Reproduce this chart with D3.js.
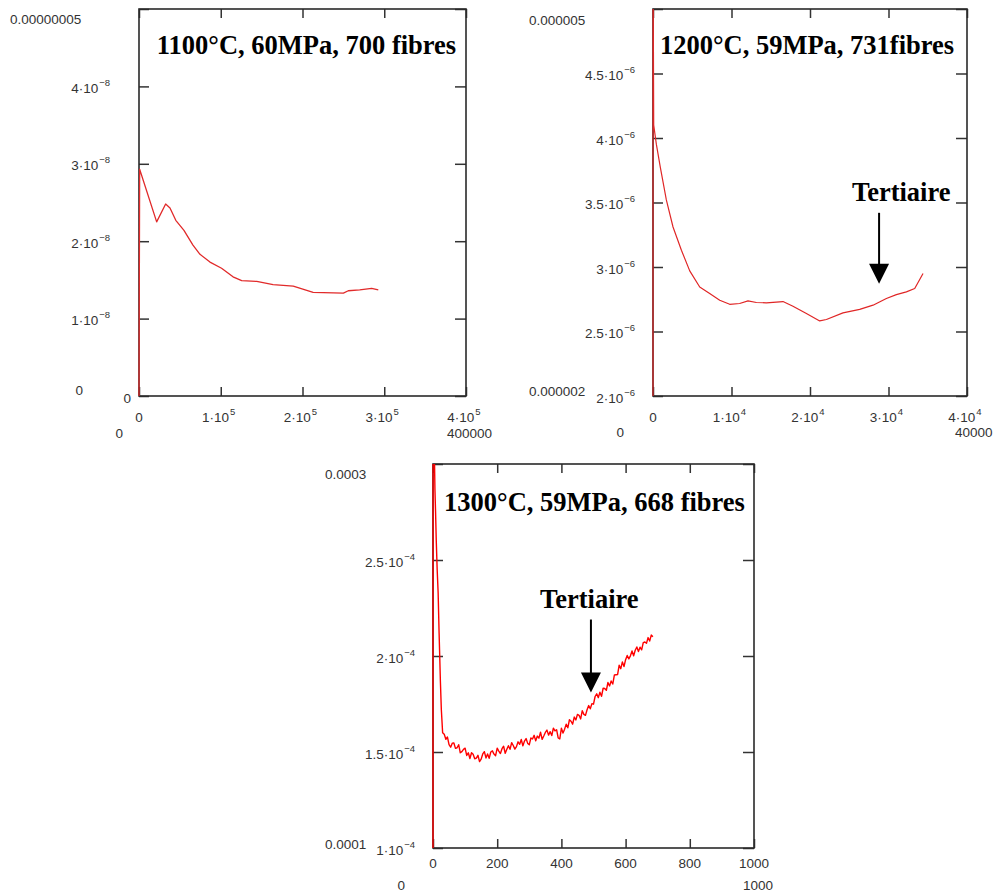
<!DOCTYPE html>
<html><head><meta charset="utf-8">
<script src="https://cdn.jsdelivr.net/npm/d3@7"></script>
<style>body{margin:0;background:#fff}svg{display:block}</style>
</head><body><svg id="c" width="994" height="895"></svg>
<script>
// ---------- DATA ----------
// Panel 1 : 1100°C
const p1Title = "1100°C, 60MPa, 700 fibres";
const p1Time = [0, 800, 21600, 32600, 37900, 45000, 55000, 66000, 74600, 86800, 101000, 115000, 125600, 144000, 164000, 188700, 213000, 250000, 256000, 270000, 284600, 292700];
const p1Rate = [0, 2.93, 2.25, 2.48, 2.43, 2.27, 2.14, 1.95, 1.83, 1.73, 1.65, 1.54, 1.49, 1.48, 1.44, 1.42, 1.34, 1.33, 1.36, 1.37, 1.39, 1.37]; // x 1e-8
const p1XTicks = [0, 1e5, 2e5, 3e5, 4e5];
const p1XLabels = ["0", "1·10^5", "2·10^5", "3·10^5", "4·10^5"];
const p1YTicks = [0, 1e-8, 2e-8, 3e-8, 4e-8, 5e-8];
const p1YLabels = ["0", "1·10^-8", "2·10^-8", "3·10^-8", "4·10^-8", ""];
const p1Limits = ["0.00000005", "0", "0", "400000"]; // ymax, ymin, xmin, xmax

// Panel 2 : 1200°C
const p2Title = "1200°C, 59MPa, 731fibres";
const p2Time = [0, 0, 90, 430, 940, 1700, 2550, 3620, 4680, 5950, 7220, 8500, 9770, 11040, 12100, 13170, 14440, 16560, 17830, 19540, 21240, 22090, 24200, 26330, 28030, 29730, 31000, 32280, 33340, 34400];
const p2Rate = [0, 5.6, 4.10, 3.95, 3.77, 3.52, 3.31, 3.13, 2.97, 2.845, 2.794, 2.742, 2.711, 2.717, 2.737, 2.725, 2.722, 2.732, 2.696, 2.640, 2.582, 2.593, 2.644, 2.671, 2.704, 2.756, 2.786, 2.807, 2.833, 2.949]; // x 1e-6
const p2XTicks = [0, 1e4, 2e4, 3e4, 4e4];
const p2XLabels = ["0", "1·10^4", "2·10^4", "3·10^4", "4·10^4"];
const p2YTicks = [2e-6, 2.5e-6, 3e-6, 3.5e-6, 4e-6, 4.5e-6, 5e-6];
const p2YLabels = ["2·10^-6", "2.5·10^-6", "3·10^-6", "3.5·10^-6", "4·10^-6", "4.5·10^-6", ""];
const p2Limits = ["0.000005", "0.000002", "0", "40000"];
const p2Arrow = [28800, 3.42e-6, 2.87e-6]; // x, top, tip
const p2Note = ["Tertiaire", 31620, 3.51e-6];

// Panel 3 : 1300°C
const p3Title = "1300°C, 59MPa, 668 fibres";
const p3Time = [0, 0, 3, 6, 8, 10, 13, 16, 19, 23, 26, 30,
  35,40,45,50,55,60,65,70,75,80,85,90,95,100,105,110,115,120,125,130,135,140,145,150,155,160,165,170,175,180,185,190,195,200,
  205,210,215,220,225,230,235,240,245,250,255,260,265,270,275,280,285,290,295,300,305,310,315,320,325,330,335,340,345,350,
  355,360,365,370,375,380,385,390,395,400,405,410,415,420,425,430,435,440,445,450,455,460,465,470,475,480,485,490,495,500,
  505,510,515,520,525,530,535,540,545,550,555,560,565,570,575,580,585,590,595,600,605,610,615,620,625,630,635,640,645,650,
  655,660,665,670,675,680,685];
const p3Rate = [0, 4.0, 3.2, 2.87, 2.75, 2.61, 2.45, 2.33, 2.12, 1.87, 1.72, 1.60,
  1.592,1.566,1.578,1.538,1.525,1.546,1.547,1.519,1.522,1.538,1.496,1.502,1.514,1.520,1.482,1.496,1.466,1.496,1.488,1.465,1.468,1.483,1.450,1.463,1.490,1.502,1.469,1.490,1.467,1.500,1.506,1.489,1.481,1.520,
  1.505,1.492,1.517,1.530,1.493,1.514,1.533,1.514,1.549,1.534,1.515,1.528,1.553,1.540,1.565,1.532,1.557,1.570,1.545,1.538,1.573,1.568,1.587,1.558,1.583,1.572,1.603,1.566,1.583,1.602,
  1.614,1.588,1.606,1.586,1.624,1.610,1.616,1.573,1.568,1.624,1.599,1.619,1.645,1.626,1.668,1.660,1.645,1.682,1.667,1.696,1.691,1.672,1.715,1.696,1.691,1.720,1.742,1.725,1.752,1.749,
  1.789,1.803,1.783,1.811,1.790,1.832,1.831,1.821,1.862,1.844,1.870,1.854,1.901,1.902,1.903,1.952,1.934,1.969,1.945,1.981,2.003,1.985,2.001,2.026,2.001,2.030,2.047,2.023,2.046,2.032,
  2.070,2.073,2.066,2.096,2.078,2.109,2.100]; // x 1e-4
const p3XTicks = [0, 200, 400, 600, 800, 1000];
const p3XLabels = ["0", "200", "400", "600", "800", "1000"];
const p3YTicks = [1e-4, 1.5e-4, 2e-4, 2.5e-4, 3e-4];
const p3YLabels = ["1·10^-4", "1.5·10^-4", "2·10^-4", "2.5·10^-4", ""];
const p3Limits = ["0.0003", "0.0001", "0", "1000"];
const p3Arrow = [492, 2.19e-4, 1.81e-4];
const p3Note = ["Tertiaire", 487, 2.25e-4];

// ---------- LAYOUT / STYLE ----------
const panels = [
  { xs: p1Time, ys: p1Rate.map(v => v * 1e-8), xDomain: [0, 4e5], yDomain: [0, 5e-8],
    xTicks: p1XTicks, xLabels: p1XLabels, yTicks: p1YTicks, yLabels: p1YLabels, title: p1Title,
    box: { l: 139, r: 466, t: 9, b: 396 }, yGap: 29, yZeroGap: 8, xLabDy: 25.5,
    color: "#e12a2a", width: 1.3, titleDx: 4, titleY: 54,
    limits: [[p1Limits[0], 10, 24, "start"], [p1Limits[1], 83, 395, "end"], [p1Limits[2], 123, 438, "end"], [p1Limits[3], 447, 438, "start"]] },
  { xs: p2Time, ys: p2Rate.map(v => v * 1e-6), xDomain: [0, 4e4], yDomain: [2e-6, 5e-6],
    xTicks: p2XTicks, xLabels: p2XLabels, yTicks: p2YTicks, yLabels: p2YLabels, title: p2Title,
    box: { l: 653, r: 967, t: 9, b: 396 }, yGap: 18, yZeroGap: 8, xLabDy: 25.5,
    color: "#e02626", width: 1.2, titleDx: -3, titleY: 54,
    limits: [[p2Limits[0], 529, 25, "start"], [p2Limits[1], 529, 396, "start"], [p2Limits[2], 624, 437, "end"], [p2Limits[3], 955, 437, "start"]],
    arrow: p2Arrow, note: p2Note },
  { xs: p3Time, ys: p3Rate.map(v => v * 1e-4), xDomain: [0, 1000], yDomain: [1e-4, 3e-4],
    xTicks: p3XTicks, xLabels: p3XLabels, yTicks: p3YTicks, yLabels: p3YLabels, title: p3Title,
    box: { l: 433, r: 754, t: 464, b: 848 }, yGap: 18, yZeroGap: 8, xLabDy: 19.5,
    color: "#ff0000", width: 1.4, titleDx: 1, titleY: 511,
    limits: [[p3Limits[0], 325, 479, "start"], [p3Limits[1], 325, 849, "start"], [p3Limits[2], 405, 890, "end"], [p3Limits[3], 743, 890, "start"]],
    arrow: p3Arrow, note: p3Note }
];

const svg = d3.select("#c");
const labelFont = "'Liberation Sans', Arial, sans-serif";
const serifFont = "'Liberation Serif', 'Times New Roman', serif";
const textColor = "#333";

function addLabel(g, str, x, y, anchor, dx) {
  const parts = str.split("^");
  const t = g.append("text").attr("x", x).attr("y", y).attr("text-anchor", anchor)
    .attr("font-family", labelFont).attr("font-size", 13.5).attr("fill", textColor);
  if (dx) t.attr("dx", dx);
  t.append("tspan").text(parts[0]);
  if (parts.length > 1) {
    t.append("tspan").attr("dy", -7).attr("dx", 1).attr("font-size", 9.5).text(parts[1].replace("-", "−"));
  }
  return t;
}

panels.forEach((p, i) => {
  const b = p.box;
  const x = d3.scaleLinear().domain(p.xDomain).range([b.l, b.r]);
  const y = d3.scaleLinear().domain(p.yDomain).range([b.b, b.t]);
  const g = svg.append("g");

  // ticks (inward on all four sides)
  const tickStyle = sel => { sel.select(".domain").remove(); sel.selectAll("text").remove();
    sel.selectAll("line").attr("stroke", "#333").attr("stroke-width", 1.5); };
  g.append("g").attr("transform", `translate(0,${b.b})`).call(d3.axisBottom(x).tickValues(p.xTicks).tickSize(-9).tickFormat("")).call(tickStyle);
  g.append("g").attr("transform", `translate(0,${b.t})`).call(d3.axisTop(x).tickValues(p.xTicks).tickSize(-9).tickFormat("")).call(tickStyle);
  g.append("g").attr("transform", `translate(${b.l},0)`).call(d3.axisLeft(y).tickValues(p.yTicks).tickSize(-10).tickFormat("")).call(tickStyle);
  g.append("g").attr("transform", `translate(${b.r},0)`).call(d3.axisRight(y).tickValues(p.yTicks).tickSize(-11).tickFormat("")).call(tickStyle);

  // frame
  g.append("rect").attr("x", b.l).attr("y", b.t).attr("width", b.r - b.l).attr("height", b.b - b.t)
    .attr("fill", "none").attr("stroke", "#2a2a2a").attr("stroke-width", 1.6);

  // tick labels
  p.xTicks.forEach((v, k) => {
    const s = p.xLabels[k];
    if (s) addLabel(g, s, x(v), b.b + p.xLabDy, "middle", s.includes("^") ? -2 : 0);
  });
  p.yTicks.forEach((v, k) => {
    const s = p.yLabels[k];
    if (!s) return;
    const gap = s.includes("^") ? p.yGap : p.yZeroGap;
    addLabel(g, s, b.l - gap, y(v) + 6.5, "end", 0);
  });

  // limit labels
  p.limits.forEach(L => addLabel(g, L[0], L[1], L[2], L[3], 0));

  // curve
  const clipId = "clip" + i;
  svg.append("clipPath").attr("id", clipId).append("rect")
    .attr("x", b.l - 1.5).attr("y", b.t).attr("width", b.r - b.l + 1.5).attr("height", b.b - b.t);
  const line = d3.line().x((d, k) => x(p.xs[k])).y((d, k) => y(p.ys[k]));
  g.append("path").datum(p.xs).attr("clip-path", `url(#${clipId})`)
    .attr("d", line).attr("fill", "none").attr("stroke", p.color)
    .attr("stroke-width", p.width).attr("stroke-linejoin", "round");

  // title
  g.append("text").attr("x", (b.l + b.r) / 2 + p.titleDx).attr("y", p.titleY).attr("text-anchor", "middle")
    .attr("font-family", serifFont).attr("font-weight", "bold").attr("font-size", 26.5).attr("fill", "#000")
    .text(p.title);

  // annotation
  if (p.arrow) {
    const ax = x(p.arrow[0]), top = y(p.arrow[1]), tip = y(p.arrow[2]);
    g.append("line").attr("x1", ax).attr("x2", ax).attr("y1", top).attr("y2", tip - 18)
      .attr("stroke", "#000").attr("stroke-width", 2);
    g.append("path").attr("d", `M${ax - 10},${tip - 20}L${ax + 10},${tip - 20}L${ax},${tip}Z`).attr("fill", "#000");
    g.append("text").attr("x", x(p.note[1])).attr("y", y(p.note[2])).attr("text-anchor", "middle")
      .attr("font-family", serifFont).attr("font-weight", "bold").attr("font-size", 26.5).attr("fill", "#000")
      .text(p.note[0]);
  }
});
</script>
</body></html>
